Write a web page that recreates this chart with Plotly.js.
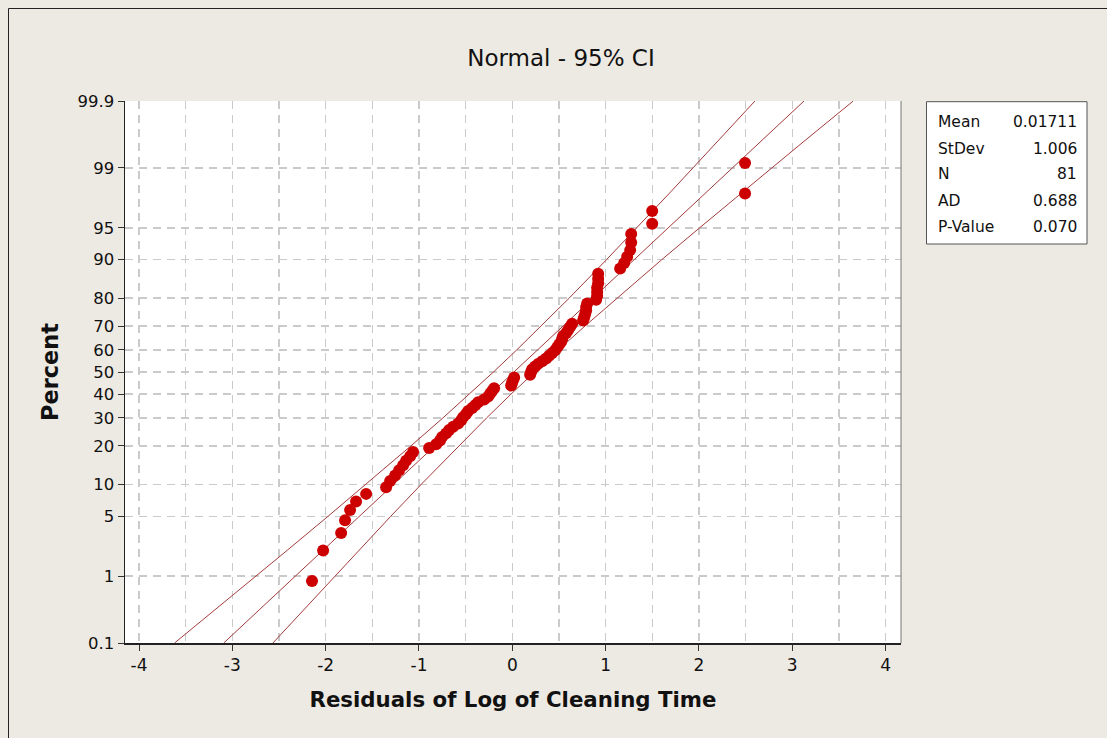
<!DOCTYPE html>
<html>
<head>
<meta charset="utf-8">
<script src="https://cdn.plot.ly/plotly-3.0.1.min.js"></script>
<style>
  html, body { margin: 0; padding: 0; background: #EDE9E3; }
  #chart { width: 1107px; height: 738px; }
</style>
</head>
<body>
<div id="chart"></div>
<script>
// ---- Data ----
// Residuals (sorted) and their plotted percent positions
const residuals = [
  -2.146, -2.027, -1.834, -1.792, -1.738, -1.674, -1.566, -1.352, -1.309, -1.256,
  -1.213, -1.170, -1.138, -1.095, -1.063, -0.891, -0.816, -0.774, -0.752, -0.709,
  -0.677, -0.634, -0.580, -0.548, -0.527, -0.495, -0.473, -0.430, -0.398, -0.366,
  -0.302, -0.259, -0.238, -0.216, -0.195, -0.012, -0.002, 0.009, 0.020, 0.191,
  0.202, 0.213, 0.245, 0.277, 0.320, 0.363, 0.395, 0.427, 0.459, 0.481,
  0.502, 0.524, 0.535, 0.545, 0.577, 0.599, 0.620, 0.641, 0.759, 0.770,
  0.781, 0.791, 0.791, 0.802, 0.898, 0.909, 0.909, 0.909, 0.920, 0.920,
  0.920, 1.156, 1.199, 1.231, 1.263, 1.274, 1.274, 1.499, 1.499, 2.494,
  2.494
];
const percents = [
  0.86, 2.09, 3.32, 4.55, 5.77, 7.00, 8.23, 9.46, 10.69, 11.92,
  13.14, 14.37, 15.60, 16.83, 18.06, 19.29, 20.52, 21.74, 22.97, 24.20,
  25.43, 26.66, 27.89, 29.12, 30.34, 31.57, 32.80, 34.03, 35.26, 36.49,
  37.71, 38.94, 40.17, 41.40, 42.63, 43.86, 45.09, 46.31, 47.54, 48.77,
  50.00, 51.23, 52.46, 53.69, 54.91, 56.14, 57.37, 58.60, 59.83, 61.06,
  62.29, 63.51, 64.74, 65.97, 67.20, 68.43, 69.66, 70.88, 72.11, 73.34,
  74.57, 75.80, 77.03, 78.26, 79.48, 80.71, 81.94, 83.17, 84.40, 85.63,
  86.86, 88.08, 89.31, 90.54, 91.77, 93.00, 94.23, 95.45, 96.68, 97.91,
  99.14
];

// Fitted line and 95% CI band, read at these percent levels
const bandPercents = [0.1, 0.5, 1, 2, 5, 10, 20, 30, 40, 50, 60, 70, 80, 90, 95, 98, 99, 99.5, 99.9];
const fitX   = [-3.092, -2.574, -2.323, -2.049, -1.638, -1.272, -0.830, -0.510, -0.238, 0.017, 0.272, 0.545, 0.864, 1.306, 1.672, 2.083, 2.357, 2.608, 3.126];
const lowerX = [-3.619, -3.029, -2.745, -2.435, -1.974, -1.568, -1.085, -0.744, -0.461, -0.202, 0.049, 0.311, 0.609, 1.010, 1.336, 1.697, 1.935, 2.153, 2.600];
const upperX = [-2.565, -2.119, -1.901, -1.663, -1.302, -0.976, -0.575, -0.276, -0.015, 0.236, 0.495, 0.779, 1.119, 1.602, 2.008, 2.469, 2.779, 3.063, 3.653];

// Axis tick labels
const yTickPercents = [0.1, 1, 5, 10, 20, 30, 40, 50, 60, 70, 80, 90, 95, 99, 99.9];
const yTickLabels = ["0.1", "1", "5", "10", "20", "30", "40", "50", "60", "70", "80", "90", "95", "99", "99.9"];
const xTickVals = [-4, -3, -2, -1, 0, 1, 2, 3, 4];
const xTickLabels = ["-4", "-3", "-2", "-1", "0", "1", "2", "3", "4"];

// Summary statistics box
const statLabels = ["Mean", "StDev", "N", "AD", "P-Value"];
const statValues = ["0.01711", "1.006", "81", "0.688", "0.070"];

const chartTitle = "Normal - 95% CI";
const xTitle = "Residuals of Log of Cleaning Time";
const yTitle = "Percent";

// ---- Normal probability scale (inverse normal CDF, Acklam) ----
function probit(p) {
  const a = [-3.969683028665376e+01, 2.209460984245205e+02, -2.759285104469687e+02,
             1.383577518672690e+02, -3.066479806614716e+01, 2.506628277459239e+00];
  const b = [-5.447609879822406e+01, 1.615858368580409e+02, -1.556989798598866e+02,
             6.680131188771972e+01, -1.328068155288572e+01];
  const c = [-7.784894002430293e-03, -3.223964580411365e-01, -2.400758277161838e+00,
             -2.549732539343734e+00, 4.374664141464968e+00, 2.938163982698783e+00];
  const d = [7.784695709041462e-03, 3.224671290700398e-01, 2.445134137142996e+00,
             3.754408661907416e+00];
  const pl = 0.02425, ph = 1 - pl;
  let q, r;
  if (p < pl) {
    q = Math.sqrt(-2 * Math.log(p));
    return (((((c[0]*q+c[1])*q+c[2])*q+c[3])*q+c[4])*q+c[5]) /
           ((((d[0]*q+d[1])*q+d[2])*q+d[3])*q+1);
  } else if (p <= ph) {
    q = p - 0.5; r = q * q;
    return (((((a[0]*r+a[1])*r+a[2])*r+a[3])*r+a[4])*r+a[5])*q /
           (((((b[0]*r+b[1])*r+b[2])*r+b[3])*r+b[4])*r+1);
  } else {
    q = Math.sqrt(-2 * Math.log(1 - p));
    return -(((((c[0]*q+c[1])*q+c[2])*q+c[3])*q+c[4])*q+c[5]) /
            ((((d[0]*q+d[1])*q+d[2])*q+d[3])*q+1);
  }
}
const toZ = pc => probit(pc / 100);

const lineColor = "#A33B3B";
const font = "DejaVu Sans, Verdana, sans-serif";

const traces = [
  { x: lowerX, y: bandPercents.map(toZ), mode: "lines", line: { color: lineColor, width: 1 }, hoverinfo: "skip" },
  { x: fitX,   y: bandPercents.map(toZ), mode: "lines", line: { color: lineColor, width: 1 }, hoverinfo: "skip" },
  { x: upperX, y: bandPercents.map(toZ), mode: "lines", line: { color: lineColor, width: 1 }, hoverinfo: "skip" },
  { x: residuals, y: percents.map(toZ), mode: "markers",
    marker: { color: "#CC0000", size: 12, line: { width: 0 } },
    text: percents.map(p => p.toFixed(2) + "%"), hovertemplate: "%{x}, %{text}<extra></extra>" }
];

// Plot area geometry in pixels (for positioning the stats box)
const L = 125, T = 101, W = 776, H = 542;
const px = v => (v - L) / W;
const py = v => (T + H - v) / H;

const rowY = [121.7, 148.5, 174.3, 200.5, 226.5];
const annotations = [];
statLabels.forEach((lab, i) => {
  annotations.push({ xref: "paper", yref: "paper", x: px(936), y: py(rowY[i]), xanchor: "left", yanchor: "middle",
    text: lab, showarrow: false, font: { family: font, size: 15.5, color: "#111" } });
  annotations.push({ xref: "paper", yref: "paper", x: px(1079), y: py(rowY[i]), xanchor: "right", yanchor: "middle",
    text: statValues[i], showarrow: false, font: { family: font, size: 15.5, color: "#111" } });
});

const shapes = [
  // stats box
  { type: "rect", xref: "paper", yref: "paper", x0: px(926.5), x1: px(1087), y0: py(244), y1: py(101.7),
    line: { color: "#555", width: 1 }, fillcolor: "#FFFFFF", layer: "above" },
  // right frame of plot
  { type: "line", xref: "paper", yref: "paper", x0: 1, x1: 1, y0: 0, y1: 1, line: { color: "#777", width: 1 } },
  // window border (top and left)
  { type: "line", xref: "paper", yref: "paper", x0: px(8.5), x1: px(1107), y0: py(8.5), y1: py(8.5), line: { color: "#222", width: 1 } },
  { type: "line", xref: "paper", yref: "paper", x0: px(8.5), x1: px(8.5), y0: py(8.5), y1: py(738), line: { color: "#222", width: 1 } }
];

const gridStyle = { gridcolor: "#CACACA", gridwidth: 1.5, griddash: "8px,6px" };

const layout = {
  width: 1107, height: 738,
  paper_bgcolor: "#EDE9E3",
  plot_bgcolor: "#FFFFFF",
  showlegend: false,
  margin: { l: L, r: 1107 - L - W, t: T, b: 738 - T - H, pad: 0 },
  title: { text: chartTitle, x: 561 / 1107, xref: "container", xanchor: "center",
           y: 1 - 58 / 738, yref: "container", yanchor: "middle",
           font: { family: font, size: 23, color: "#111" } },
  xaxis: {
    range: [-4.15, 4.165],
    tickvals: xTickVals,
    ticktext: xTickLabels,
    ticks: "outside", ticklen: 6, tickcolor: "#333", tickwidth: 1,
    showline: true, linecolor: "#222", linewidth: 1.5,
    showgrid: true, ...gridStyle,
    minor: { dtick: 0.5, tick0: 0, showgrid: true, ...gridStyle, ticks: "" },
    zeroline: false,
    tickfont: { family: font, size: 17, color: "#111" },
    title: { text: xTitle, standoff: 18, font: { family: font, size: 21.3, color: "#111", weight: "bold" } }
  },
  yaxis: {
    range: [toZ(0.1), toZ(99.9)],
    tickvals: yTickPercents.map(toZ),
    ticktext: yTickLabels,
    ticks: "outside", ticklen: 6, tickcolor: "#333", tickwidth: 1,
    showline: true, linecolor: "#222", linewidth: 1.5,
    showgrid: true, ...gridStyle,
    zeroline: false,
    tickfont: { family: font, size: 16.5, color: "#111" },
    title: { text: yTitle, standoff: 12, font: { family: font, size: 22.4, color: "#111", weight: "bold" } }
  },
  annotations: annotations,
  shapes: shapes
};

Plotly.newPlot("chart", traces, layout, { staticPlot: true, displayModeBar: false });
</script>
</body>
</html>
